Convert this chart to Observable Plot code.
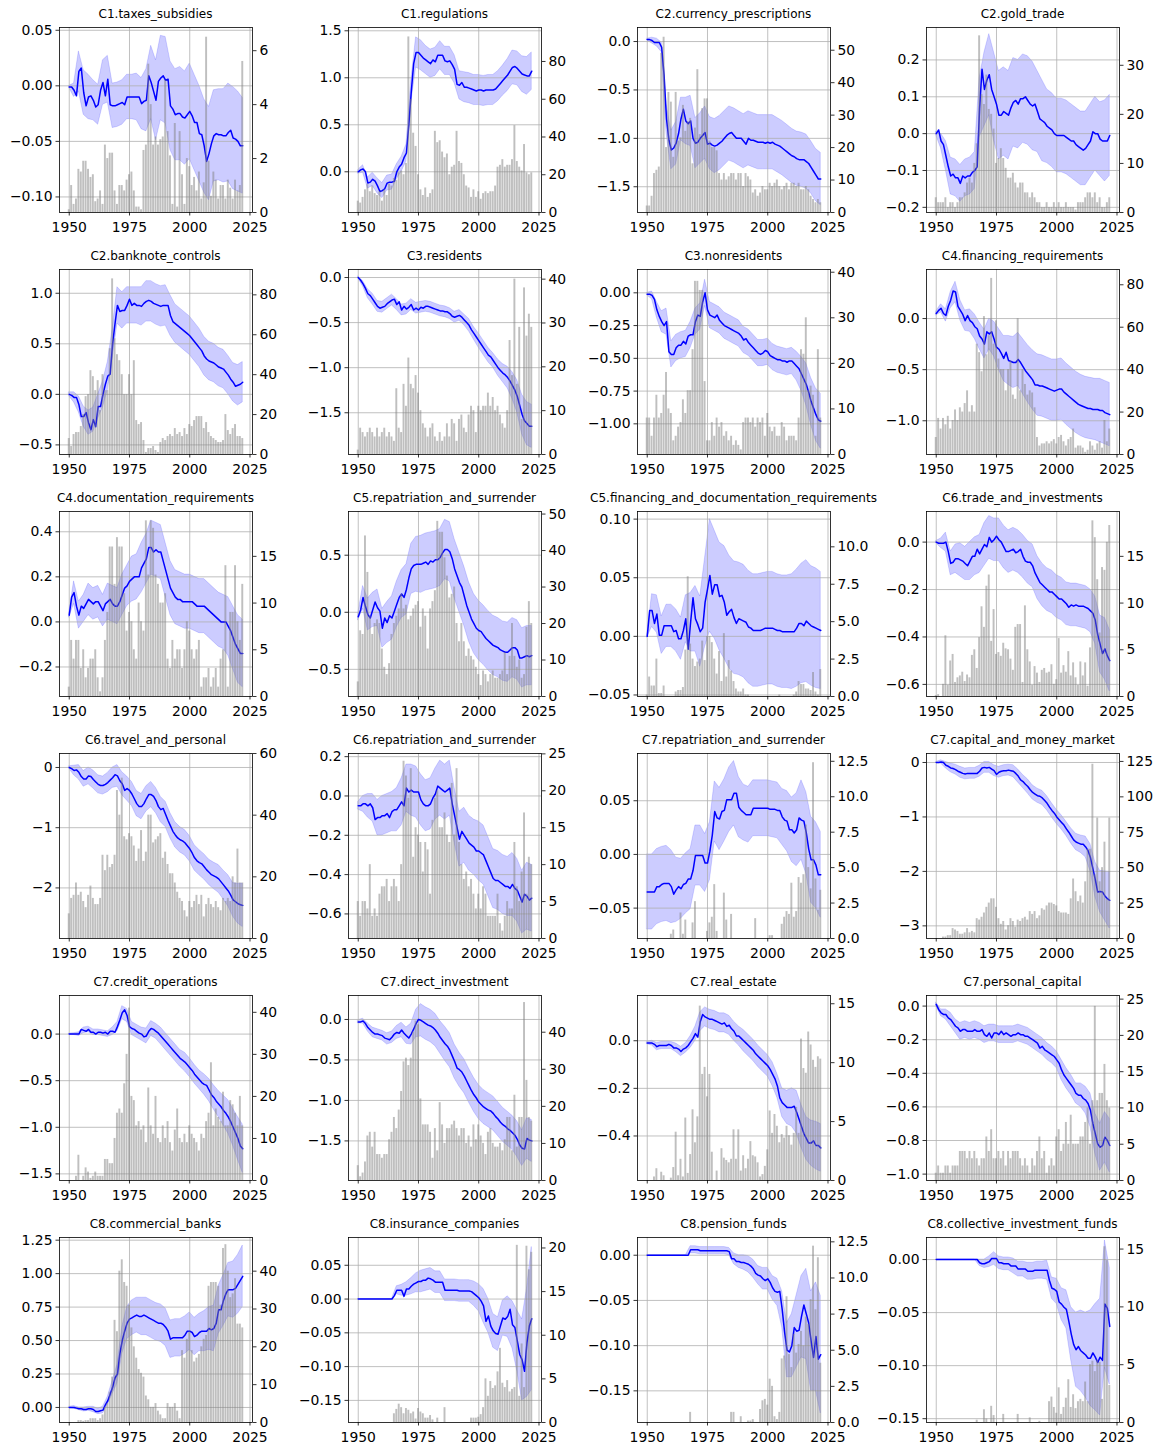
<!DOCTYPE html>
<html><head><meta charset="utf-8">
<script src="https://cdn.jsdelivr.net/npm/d3@7"></script>
<script src="https://cdn.jsdelivr.net/npm/@observablehq/plot@0.6"></script>
<style>
body{margin:0;background:#fff;}
#fig{position:relative;width:1156px;height:1445px;background:#fff;font-family:"DejaVu Sans",sans-serif;overflow:hidden;}
.title{position:absolute;transform:translateX(-50%);font-size:12px;line-height:14px;color:#000;white-space:nowrap;}
.panel{position:absolute;}
.panel svg{position:absolute;left:0;top:0;}
</style></head><body><div id="fig"></div>
<script>
const titles = ["C1.taxes_subsidies","C1.regulations","C2.currency_prescriptions","C2.gold_trade","C2.banknote_controls","C3.residents","C3.nonresidents","C4.financing_requirements","C4.documentation_requirements","C5.repatriation_and_surrender","C5.financing_and_documentation_requirements","C6.trade_and_investments","C6.travel_and_personal","C6.repatriation_and_surrender","C7.repatriation_and_surrender","C7.capital_and_money_market","C7.credit_operations","C7.direct_investment","C7.real_estate","C7.personal_capital","C8.commercial_banks","C8.insurance_companies","C8.pension_funds","C8.collective_investment_funds"];

const xTicks = [1950, 1975, 2000, 2025];

const leftDomains = [[-0.114,0.0525],[-0.433,1.535],[-1.766,0.145],[-0.214,0.288],[-0.595,1.235],[-1.963,0.089],[-1.234,0.178],[-1.33,0.48],[-0.331,0.49],[-0.738,0.883],[-0.0513,0.1065],[-0.651,0.129],[-2.84,0.232],[-0.725,0.216],[-0.0783,0.094],[-3.232,0.165],[-1.571,0.414],[-1.989,0.296],[-0.587,0.19],[-1.038,0.063],[-0.1125,1.27],[-0.1827,0.0911],[-0.185,0.0196],[-0.1536,0.0208]];
const leftTicks = [[-0.1,-0.05,0,0.05],[0,0.5,1,1.5],[-1.5,-1,-0.5,0],[-0.2,-0.1,0,0.1,0.2],[-0.5,0,0.5,1],[-1.5,-1,-0.5,0],[-1,-0.75,-0.5,-0.25,0],[-1,-0.5,0],[-0.2,0,0.2,0.4],[-0.5,0,0.5],[-0.05,0,0.05,0.1],[-0.6,-0.4,-0.2,0],[-2,-1,0],[-0.6,-0.4,-0.2,0,0.2],[-0.05,0,0.05],[-3,-2,-1,0],[-1.5,-1,-0.5,0],[-1.5,-1,-0.5,0],[-0.4,-0.2,0],[-1,-0.8,-0.6,-0.4,-0.2,0],[0,0.25,0.5,0.75,1,1.25],[-0.15,-0.1,-0.05,0,0.05],[-0.15,-0.1,-0.05,0],[-0.15,-0.1,-0.05,0]];
const leftFormats = [".2f",".1f",".1f",".1f",".1f",".1f",".2f",".1f",".1f",".1f",".2f",".1f","d",".1f",".2f","d",".1f",".1f",".1f",".1f",".2f",".2f",".2f",".2f"];
const rightDomains = [[0,6.86],[0,98],[0,57],[0,37.7],[0,92.7],[0,42.2],[0,40.6],[0,87.2],[0,19.8],[0,50.7],[0,12.36],[0,19.8],[0,60],[0,25.05],[0,13.05],[0,130.6],[0,44],[0,49.9],[0,15.7],[0,25.5],[0,48.9],[0,21.2],[0,12.8],[0,16]];
const rightTicks = [[0,2,4,6],[0,20,40,60,80],[0,10,20,30,40,50],[0,10,20,30],[0,20,40,60,80],[0,10,20,30,40],[0,10,20,30,40],[0,20,40,60,80],[0,5,10,15],[0,10,20,30,40,50],[0,2.5,5,7.5,10],[0,5,10,15],[0,20,40,60],[0,5,10,15,20,25],[0,2.5,5,7.5,10,12.5],[0,25,50,75,100,125],[0,10,20,30,40],[0,10,20,30,40],[0,5,10,15],[0,5,10,15,20,25],[0,10,20,30,40],[0,5,10,15,20],[0,2.5,5,7.5,10,12.5],[0,5,10,15]];
const rightFormats = ["d","d","d","d","d","d","d","d","d","d",".1f","d","d","d",".1f","d","d","d","d","d","d","d",".1f","d"];

// estimated coefficient per year 1950..2022
const line01 = [-0.001,-0.001,-0.004,-0.009,0.013,0.016,-0.006,-0.018,-0.010,-0.009,
-0.013,-0.019,-0.017,-0.004,0.003,-0.009,0.006,-0.017,-0.018,-0.018,
-0.017,-0.016,-0.015,-0.017,-0.010,-0.010,-0.010,-0.010,-0.010,-0.010,
-0.016,-0.014,-0.013,0.009,0.003,-0.005,-0.013,0.004,0.007,0.009,
0.005,0.006,-0.018,-0.021,-0.026,-0.025,-0.025,-0.028,-0.029,-0.026,
-0.023,-0.027,-0.033,-0.033,-0.043,-0.044,-0.054,-0.068,-0.061,-0.052,
-0.045,-0.043,-0.044,-0.044,-0.045,-0.045,-0.042,-0.040,-0.047,-0.048,
-0.050,-0.054,-0.054];
const line02 = [0.00,0.02,0.03,0.00,-0.12,-0.11,-0.08,-0.10,-0.15,-0.21,
-0.20,-0.18,-0.12,-0.11,-0.11,-0.10,0.00,0.05,0.08,0.15,
0.20,0.50,0.85,1.15,1.27,1.27,1.24,1.21,1.19,1.17,
1.15,1.19,1.17,1.24,1.24,1.24,1.18,1.17,1.18,1.14,
1.09,0.93,0.92,0.95,0.90,0.90,0.89,0.88,0.87,0.86,
0.87,0.87,0.86,0.87,0.87,0.87,0.87,0.88,0.91,0.94,
0.97,1.00,1.03,1.07,1.11,1.12,1.10,1.07,1.04,1.03,
1.02,1.02,1.07];
const line03 = [0.02,0.02,0.01,-0.01,-0.01,-0.01,-0.06,-0.35,-0.80,-1.02,
-1.12,-1.10,-1.05,-0.95,-0.80,-0.70,-0.82,-0.85,-0.82,-1.00,
-1.05,-1.04,-1.00,-0.97,-0.94,-1.06,-1.05,-1.07,-1.08,-1.07,
-1.05,-1.03,-1.00,-0.97,-0.95,-0.94,-0.97,-1.00,-1.00,-1.00,
-1.03,-1.06,-1.00,-1.02,-1.02,-1.03,-1.04,-1.04,-1.04,-1.05,
-1.04,-1.05,-1.04,-1.06,-1.07,-1.08,-1.10,-1.12,-1.14,-1.16,
-1.18,-1.19,-1.21,-1.22,-1.22,-1.22,-1.24,-1.26,-1.30,-1.34,
-1.38,-1.42,-1.42];
const line04 = [0.0,0.01,-0.02,-0.03,-0.06,-0.09,-0.115,-0.11,-0.12,-0.12,
-0.135,-0.115,-0.12,-0.115,-0.115,-0.105,-0.10,-0.09,0.07,0.175,
0.12,0.145,0.16,0.12,0.10,0.08,0.05,0.05,0.06,0.055,
0.05,0.07,0.085,0.09,0.08,0.095,0.095,0.10,0.09,0.08,
0.075,0.08,0.06,0.04,0.035,0.03,0.02,0.015,0.01,0.0,
-0.005,-0.005,-0.005,-0.005,-0.01,-0.015,-0.02,-0.02,-0.03,-0.035,
-0.04,-0.045,-0.04,-0.03,-0.02,0.005,0.0,0.0,-0.015,-0.02,
-0.02,-0.02,-0.005];
const line05 = [0.0,-0.01,-0.03,-0.03,-0.10,-0.22,-0.22,-0.18,-0.28,-0.35,
-0.25,-0.32,-0.12,-0.12,0.0,0.10,0.18,0.20,0.50,0.70,
0.88,0.82,0.83,0.83,0.88,0.94,0.88,0.90,0.88,0.88,
0.87,0.90,0.92,0.93,0.92,0.90,0.89,0.88,0.87,0.88,
0.88,0.88,0.78,0.72,0.70,0.68,0.66,0.64,0.62,0.60,
0.58,0.55,0.52,0.49,0.46,0.43,0.38,0.35,0.33,0.32,
0.31,0.29,0.27,0.26,0.25,0.22,0.19,0.15,0.12,0.08,
0.09,0.10,0.12];
const line06 = [0.0,-0.03,-0.07,-0.12,-0.18,-0.20,-0.24,-0.28,-0.32,-0.34,
-0.33,-0.32,-0.29,-0.27,-0.25,-0.24,-0.30,-0.27,-0.36,-0.32,
-0.35,-0.33,-0.30,-0.36,-0.34,-0.36,-0.33,-0.34,-0.32,-0.32,
-0.33,-0.34,-0.35,-0.36,-0.37,-0.37,-0.38,-0.38,-0.40,-0.43,
-0.44,-0.43,-0.42,-0.44,-0.47,-0.50,-0.53,-0.58,-0.62,-0.66,
-0.70,-0.74,-0.78,-0.82,-0.86,-0.88,-0.92,-0.96,-1.00,-1.03,
-1.06,-1.08,-1.11,-1.15,-1.20,-1.25,-1.32,-1.42,-1.52,-1.59,
-1.62,-1.65,-1.65];
const line07 = [-0.01,-0.01,-0.02,-0.05,-0.13,-0.18,-0.22,-0.25,-0.22,-0.45,
-0.47,-0.47,-0.42,-0.40,-0.40,-0.37,-0.39,-0.33,-0.32,-0.32,
-0.22,-0.17,-0.18,-0.07,0.0,-0.13,-0.17,-0.18,-0.19,-0.17,
-0.21,-0.23,-0.25,-0.26,-0.27,-0.28,-0.29,-0.30,-0.31,-0.33,
-0.36,-0.35,-0.38,-0.40,-0.42,-0.44,-0.46,-0.47,-0.46,-0.44,
-0.45,-0.48,-0.49,-0.50,-0.51,-0.51,-0.52,-0.52,-0.53,-0.52,
-0.52,-0.54,-0.56,-0.58,-0.62,-0.66,-0.70,-0.76,-0.83,-0.88,
-0.93,-0.97,-0.98];
const line08 = [0.05,0.08,0.10,0.05,0.03,0.12,0.18,0.27,0.26,0.12,
0.08,0.04,-0.02,0.03,-0.02,-0.04,-0.08,-0.10,-0.17,-0.20,
-0.25,-0.13,-0.15,-0.13,-0.20,-0.28,-0.30,-0.34,-0.39,-0.33,
-0.41,-0.42,-0.43,-0.43,-0.40,-0.43,-0.47,-0.51,-0.54,-0.57,
-0.60,-0.65,-0.65,-0.66,-0.66,-0.67,-0.68,-0.69,-0.70,-0.71,
-0.70,-0.69,-0.69,-0.72,-0.74,-0.76,-0.78,-0.80,-0.82,-0.84,
-0.85,-0.86,-0.87,-0.88,-0.88,-0.89,-0.89,-0.89,-0.90,-0.90,
-0.92,-0.93,-0.94];
const line09 = [0.03,0.11,0.13,0.07,0.03,0.07,0.06,0.08,0.10,0.09,
0.08,0.09,0.09,0.07,0.05,0.08,0.09,0.10,0.08,0.07,
0.07,0.09,0.12,0.15,0.16,0.18,0.19,0.20,0.20,0.20,
0.24,0.26,0.28,0.33,0.33,0.31,0.32,0.31,0.31,0.27,
0.23,0.19,0.15,0.13,0.11,0.10,0.10,0.09,0.09,0.09,
0.09,0.09,0.08,0.07,0.07,0.07,0.07,0.06,0.05,0.04,
0.03,0.02,0.01,0.00,0.00,0.00,-0.02,-0.04,-0.07,-0.10,
-0.12,-0.14,-0.14];
const line10 = [-0.04,0.02,0.13,0.05,-0.02,-0.05,0.02,0.09,0.04,0.01,
-0.14,-0.05,-0.09,-0.03,-0.05,0.01,0.07,0.13,0.16,0.13,
0.20,0.30,0.38,0.41,0.42,0.42,0.42,0.43,0.44,0.42,
0.45,0.44,0.46,0.46,0.48,0.52,0.55,0.55,0.53,0.47,
0.38,0.32,0.26,0.22,0.14,0.06,0.00,-0.06,-0.10,-0.14,
-0.16,-0.17,-0.20,-0.23,-0.25,-0.27,-0.29,-0.30,-0.31,-0.33,
-0.34,-0.35,-0.35,-0.33,-0.31,-0.31,-0.33,-0.40,-0.40,-0.39,
-0.38,-0.39,-0.38];
const line11 = [0.0,0.022,0.022,0.011,0.019,0.001,0.001,0.009,0.009,0.009,
0.009,0.004,0.005,-0.002,-0.002,0.005,0.015,-0.011,0.012,0.033,
0.015,0.010,0.004,0.007,0.029,0.040,0.052,0.036,0.044,0.044,
0.034,0.035,0.029,0.018,0.021,0.023,0.016,0.011,0.015,0.014,
0.013,0.012,0.008,0.007,0.005,0.005,0.005,0.005,0.006,0.007,
0.007,0.007,0.007,0.006,0.005,0.005,0.004,0.004,0.004,0.004,
0.004,0.004,0.007,0.011,0.011,0.009,0.013,0.011,0.009,0.008,
0.007,0.006,0.005];
const line12 = [0.0,-0.005,-0.005,-0.005,0.0,-0.04,-0.09,-0.085,-0.07,-0.07,
-0.075,-0.08,-0.09,-0.10,-0.08,-0.06,-0.06,-0.03,-0.05,-0.03,
-0.01,-0.02,0.02,0.0,0.01,0.025,0.01,0.0,-0.02,-0.04,
-0.04,-0.035,-0.03,-0.045,-0.04,-0.03,-0.06,-0.08,-0.085,-0.085,
-0.10,-0.13,-0.15,-0.17,-0.18,-0.19,-0.20,-0.21,-0.21,-0.22,
-0.23,-0.24,-0.24,-0.25,-0.26,-0.275,-0.265,-0.27,-0.265,-0.27,
-0.27,-0.27,-0.275,-0.28,-0.29,-0.30,-0.33,-0.39,-0.43,-0.47,
-0.45,-0.48,-0.50];
const line13 = [0.0,-0.02,-0.05,-0.04,-0.08,-0.15,-0.19,-0.19,-0.14,-0.15,
-0.20,-0.24,-0.28,-0.30,-0.30,-0.28,-0.25,-0.21,-0.17,-0.12,
-0.14,-0.22,-0.27,-0.38,-0.35,-0.38,-0.44,-0.52,-0.60,-0.65,
-0.65,-0.60,-0.52,-0.45,-0.45,-0.48,-0.55,-0.65,-0.70,-0.68,
-0.78,-0.88,-0.97,-1.06,-1.12,-1.17,-1.20,-1.22,-1.25,-1.30,
-1.35,-1.42,-1.50,-1.55,-1.58,-1.60,-1.65,-1.70,-1.74,-1.78,
-1.80,-1.82,-1.85,-1.90,-1.95,-2.00,-2.05,-2.12,-2.20,-2.23,
-2.26,-2.28,-2.29];
const line14 = [-0.05,-0.05,-0.04,-0.04,-0.05,-0.04,-0.06,-0.12,-0.11,-0.11,
-0.10,-0.10,-0.09,-0.11,-0.08,-0.07,-0.07,-0.05,-0.03,-0.05,
0.04,0.02,0.03,0.02,0.02,0.02,-0.02,-0.04,-0.05,-0.05,
-0.04,-0.01,0.01,0.05,0.04,0.03,0.02,0.03,0.04,-0.04,
-0.10,-0.16,-0.22,-0.18,-0.20,-0.22,-0.24,-0.25,-0.26,-0.28,
-0.28,-0.29,-0.30,-0.33,-0.36,-0.39,-0.42,-0.43,-0.43,-0.44,
-0.45,-0.46,-0.46,-0.47,-0.45,-0.47,-0.48,-0.51,-0.54,-0.50,
-0.51,-0.53,-0.52];
const line15 = [-0.035,-0.035,-0.035,-0.035,-0.030,-0.030,-0.028,-0.027,-0.027,-0.027,
-0.030,-0.037,-0.033,-0.030,-0.032,-0.028,-0.027,-0.023,-0.023,-0.015,
-0.001,-0.001,-0.001,-0.001,-0.008,-0.008,0.003,0.018,0.040,0.034,
0.033,0.040,0.041,0.051,0.051,0.051,0.057,0.057,0.044,0.041,
0.039,0.037,0.037,0.037,0.043,0.043,0.043,0.043,0.043,0.043,
0.043,0.042,0.042,0.042,0.041,0.041,0.035,0.032,0.031,0.023,
0.023,0.020,0.023,0.034,0.032,0.031,0.020,0.005,-0.005,-0.005,
-0.010,-0.019,-0.019];
const line16 = [0.0,0.0,0.01,0.0,-0.05,-0.07,-0.10,-0.11,-0.13,-0.16,
-0.18,-0.20,-0.21,-0.20,-0.20,-0.20,-0.20,-0.20,-0.16,-0.10,
-0.09,-0.10,-0.09,-0.12,-0.15,-0.22,-0.18,-0.16,-0.15,-0.15,
-0.14,-0.15,-0.16,-0.20,-0.25,-0.32,-0.35,-0.40,-0.44,-0.50,
-0.55,-0.58,-0.61,-0.62,-0.65,-0.70,-0.75,-0.82,-0.88,-0.93,
-1.00,-1.05,-1.10,-1.15,-1.22,-1.28,-1.35,-1.42,-1.46,-1.48,
-1.50,-1.50,-1.55,-1.62,-1.75,-1.95,-2.15,-2.38,-2.37,-2.38,
-2.45,-2.50,-2.53];
const line17 = [0.0,0.0,0.0,0.0,0.0,0.05,0.04,0.03,0.05,0.02,
0.02,0.0,0.02,0.02,0.01,0.02,0.0,0.03,0.03,0.02,
0.08,0.15,0.23,0.26,0.20,0.08,0.06,0.05,0.03,0.01,
0.0,-0.03,-0.02,0.03,0.06,0.05,0.03,0.01,-0.02,-0.05,
-0.08,-0.11,-0.14,-0.17,-0.20,-0.23,-0.26,-0.28,-0.30,-0.33,
-0.36,-0.39,-0.43,-0.46,-0.49,-0.52,-0.54,-0.55,-0.60,-0.65,
-0.68,-0.72,-0.75,-0.78,-0.82,-0.85,-0.89,-0.94,-1.00,-1.06,
-1.12,-1.20,-1.23];
const line18 = [-0.03,-0.03,-0.02,-0.05,-0.10,-0.13,-0.16,-0.18,-0.18,-0.19,
-0.20,-0.23,-0.24,-0.25,-0.22,-0.18,-0.16,-0.17,-0.13,-0.17,
-0.20,-0.23,-0.18,-0.12,-0.05,0.0,-0.01,-0.03,-0.05,-0.07,
-0.08,-0.10,-0.13,-0.17,-0.22,-0.26,-0.30,-0.33,-0.38,-0.45,
-0.52,-0.60,-0.62,-0.65,-0.70,-0.76,-0.82,-0.88,-0.93,-0.97,
-1.02,-1.05,-1.08,-1.10,-1.12,-1.13,-1.16,-1.20,-1.23,-1.27,
-1.30,-1.32,-1.35,-1.37,-1.40,-1.43,-1.48,-1.55,-1.59,-1.60,
-1.47,-1.49,-1.50];
const line19 = [-0.01,-0.01,-0.01,-0.015,-0.025,-0.02,-0.02,-0.02,-0.02,-0.015,
-0.02,-0.03,-0.03,-0.035,-0.045,-0.035,-0.03,-0.02,-0.005,0.01,
0.03,0.015,0.08,0.11,0.10,0.095,0.09,0.09,0.085,0.08,
0.075,0.07,0.075,0.06,0.065,0.05,0.04,0.02,0.02,0.01,
0.0,-0.01,-0.02,-0.03,-0.04,-0.055,-0.065,-0.075,-0.085,-0.095,
-0.105,-0.12,-0.14,-0.16,-0.19,-0.24,-0.26,-0.27,-0.28,-0.28,
-0.28,-0.275,-0.30,-0.33,-0.36,-0.39,-0.41,-0.43,-0.43,-0.42,
-0.44,-0.44,-0.45];
const line20 = [0.01,-0.02,-0.04,-0.05,-0.05,-0.07,-0.08,-0.10,-0.12,-0.13,
-0.15,-0.14,-0.14,-0.15,-0.15,-0.15,-0.14,-0.15,-0.15,-0.14,
-0.17,-0.18,-0.16,-0.19,-0.16,-0.16,-0.17,-0.15,-0.17,-0.16,
-0.17,-0.18,-0.17,-0.17,-0.16,-0.17,-0.17,-0.18,-0.18,-0.19,
-0.20,-0.21,-0.22,-0.25,-0.24,-0.26,-0.27,-0.28,-0.29,-0.30,
-0.32,-0.34,-0.38,-0.41,-0.43,-0.45,-0.47,-0.49,-0.52,-0.53,
-0.53,-0.55,-0.56,-0.58,-0.62,-0.70,-0.76,-0.82,-0.84,-0.83,
-0.78,-0.80,-0.83];
const line21 = [0.0,0.0,0.0,-0.005,-0.01,-0.01,-0.015,-0.015,-0.01,-0.01,
-0.015,-0.03,-0.03,-0.025,-0.02,0.02,0.05,0.10,0.15,0.22,
0.25,0.40,0.50,0.57,0.63,0.66,0.67,0.68,0.69,0.68,
0.68,0.69,0.68,0.67,0.66,0.65,0.64,0.63,0.63,0.62,
0.60,0.57,0.51,0.52,0.52,0.52,0.52,0.52,0.54,0.57,
0.57,0.56,0.53,0.54,0.56,0.57,0.57,0.57,0.59,0.58,
0.59,0.63,0.73,0.73,0.80,0.85,0.88,0.88,0.88,0.89,
0.92,0.95,0.98];
const line22 = [0,0,0,0,0,0,0,0,0,0,
0,0,0,0,0,0.005,0.013,0.013,0.013,0.004,
0.015,0.015,0.019,0.022,0.024,0.026,0.026,0.028,0.028,0.031,
0.030,0.028,0.025,0.025,0.025,0.025,0.013,0.013,0.013,0.013,
0.013,0.013,0.012,0.012,0.012,0.012,0.012,0.011,0.008,0.005,
0.002,-0.003,-0.010,-0.033,-0.025,-0.040,-0.047,-0.051,-0.052,-0.040,
-0.028,-0.030,-0.026,-0.015,-0.038,-0.042,-0.062,-0.082,-0.090,-0.107,
-0.065,-0.040,-0.029];
const line23 = [0,0,0,0,0,0,0,0,0,0,
0,0,0,0,0,0,0,0,0.006,0.006,
0.006,0.006,0.005,0.005,0.005,0.005,0.005,0.005,0.005,0.005,
0.005,0.005,0.005,0.005,0.004,-0.004,-0.004,-0.007,-0.007,-0.008,
-0.008,-0.009,-0.010,-0.012,-0.015,-0.020,-0.022,-0.023,-0.026,-0.028,
-0.026,-0.030,-0.036,-0.040,-0.041,-0.040,-0.060,-0.085,-0.105,-0.107,
-0.100,-0.080,-0.084,-0.083,-0.068,-0.055,-0.065,-0.075,-0.095,-0.113,
-0.090,-0.115,-0.110];
const line24 = [0,0,0,0,0,0,0,0,0,0,
0,0,0,0,0,0,0,0,-0.003,-0.004,
-0.004,-0.003,-0.002,0.001,0.001,0.001,-0.003,-0.003,-0.004,-0.004,
-0.004,-0.006,-0.006,-0.006,-0.009,-0.009,-0.009,-0.009,-0.011,-0.011,
-0.011,-0.010,-0.010,-0.010,-0.010,-0.010,-0.010,-0.020,-0.027,-0.028,
-0.030,-0.040,-0.042,-0.045,-0.047,-0.058,-0.070,-0.080,-0.085,-0.082,
-0.086,-0.088,-0.090,-0.093,-0.093,-0.088,-0.092,-0.097,-0.092,-0.095,
-0.042,-0.046,-0.063];

// half-width of the confidence band, every second year 1950..2022
const ci01 = [.001,.006,.018,.020,.020,.018,.018,.020,.021,.020,.020,.020,.020,.020,.021,.023,.028,.033,.036,.038,.039,.040,.041,.042,.042,.043,.043,.043,.042,.042,.041,.041,.042,.044,.046,.045,.043];
const ci02 = [.02,.04,.06,.07,.08,.08,.08,.08,.08,.08,.09,.12,.16,.16,.15,.15,.15,.15,.15,.15,.15,.15,.16,.16,.16,.16,.16,.16,.16,.16,.16,.17,.18,.18,.19,.20,.20];
const ci03 = [.01,.03,.04,.05,.15,.20,.22,.22,.24,.26,.26,.26,.27,.27,.28,.28,.28,.28,.28,.28,.28,.28,.28,.28,.28,.28,.28,.28,.28,.28,.28,.28,.28,.28,.27,.27,.27];
const ci04 = [.005,.02,.04,.05,.05,.05,.05,.05,.05,.08,.10,.11,.12,.12,.12,.12,.12,.12,.12,.12,.12,.11,.11,.10,.10,.10,.10,.10,.10,.10,.10,.10,.10,.10,.10,.11,.11];
const ci05 = [.02,.05,.08,.10,.12,.12,.12,.13,.14,.15,.18,.18,.18,.18,.18,.19,.20,.20,.20,.20,.20,.20,.19,.19,.19,.19,.19,.19,.19,.19,.19,.19,.19,.19,.19,.20,.20];
const ci06 = [.01,.03,.05,.06,.06,.06,.06,.06,.06,.06,.06,.06,.06,.06,.06,.06,.06,.06,.06,.06,.06,.06,.06,.07,.07,.08,.08,.08,.08,.09,.10,.12,.15,.18,.22,.24,.24];
const ci07 = [.01,.03,.06,.08,.10,.10,.10,.10,.10,.10,.10,.10,.10,.10,.10,.10,.10,.10,.10,.10,.10,.10,.10,.10,.10,.10,.10,.10,.10,.10,.10,.11,.13,.16,.18,.20,.21];
const ci08 = [.02,.04,.06,.08,.10,.10,.10,.11,.12,.13,.14,.15,.17,.20,.22,.24,.25,.26,.27,.28,.29,.30,.30,.30,.30,.30,.30,.30,.30,.30,.30,.30,.30,.30,.31,.31,.31];
const ci09 = [.01,.05,.06,.06,.07,.07,.07,.07,.08,.08,.08,.09,.09,.10,.10,.11,.11,.12,.12,.12,.12,.12,.12,.12,.12,.12,.12,.12,.12,.12,.12,.12,.12,.13,.14,.15,.15];
const ci10 = [.03,.10,.14,.15,.16,.17,.18,.19,.20,.21,.22,.22,.24,.25,.25,.25,.25,.25,.26,.26,.26,.26,.26,.26,.26,.26,.26,.26,.26,.26,.26,.26,.26,.26,.26,.26,.26];
const ci11 = [.001,.014,.016,.016,.018,.018,.018,.018,.020,.025,.028,.030,.038,.048,.046,.046,.048,.048,.048,.048,.048,.048,.048,.048,.048,.048,.048,.048,.048,.048,.049,.050,.051,.052,.051,.051,.050];
const ci12 = [.005,.02,.04,.05,.06,.07,.07,.08,.08,.08,.09,.09,.09,.09,.09,.09,.09,.09,.09,.09,.09,.09,.09,.09,.09,.09,.09,.09,.09,.09,.09,.09,.09,.10,.12,.13,.13];
const ci13 = [.02,.08,.12,.13,.14,.15,.15,.15,.16,.17,.18,.19,.20,.20,.21,.21,.21,.21,.21,.21,.21,.21,.21,.21,.21,.21,.21,.21,.21,.21,.22,.23,.24,.26,.28,.33,.36];
const ci14 = [.02,.04,.06,.07,.09,.10,.10,.10,.11,.12,.12,.13,.13,.13,.13,.13,.13,.14,.14,.14,.14,.14,.14,.14,.14,.15,.15,.15,.15,.15,.15,.15,.16,.16,.16,.17,.17];
const ci15 = [.035,.035,.035,.035,.035,.034,.030,.028,.028,.028,.028,.028,.027,.027,.028,.029,.029,.030,.030,.028,.026,.026,.026,.026,.026,.026,.026,.026,.026,.028,.030,.034,.037,.038,.040,.040,.040];
const ci16 = [.01,.03,.06,.08,.09,.10,.10,.10,.10,.10,.10,.10,.10,.10,.10,.10,.11,.12,.12,.13,.13,.13,.13,.13,.13,.13,.13,.13,.14,.15,.16,.19,.25,.32,.38,.45,.52];
const ci17 = [.005,.01,.02,.03,.03,.03,.03,.03,.03,.04,.05,.07,.07,.07,.07,.07,.08,.08,.08,.09,.09,.09,.09,.09,.10,.10,.10,.10,.11,.12,.13,.14,.16,.18,.20,.23,.26];
const ci18 = [.02,.03,.05,.06,.06,.06,.07,.07,.08,.09,.10,.13,.17,.20,.20,.20,.20,.20,.21,.21,.21,.21,.21,.21,.21,.21,.21,.21,.21,.21,.21,.21,.21,.22,.22,.25,.26];
const ci19 = [.005,.01,.015,.015,.015,.015,.018,.02,.02,.025,.03,.04,.04,.04,.04,.04,.04,.04,.04,.04,.045,.045,.045,.045,.045,.045,.05,.05,.06,.07,.08,.09,.09,.09,.095,.10,.10];
const ci20 = [.01,.02,.03,.04,.04,.05,.05,.05,.05,.05,.05,.05,.05,.05,.05,.05,.05,.05,.05,.05,.05,.05,.05,.05,.05,.05,.06,.06,.06,.06,.07,.08,.10,.12,.14,.15,.16];
const ci21 = [.005,.01,.01,.015,.015,.02,.02,.025,.03,.05,.07,.10,.12,.13,.13,.14,.14,.14,.14,.14,.14,.14,.14,.14,.14,.14,.14,.14,.15,.16,.17,.18,.19,.20,.21,.22,.23];
const ci22 = [0,0,0,0,0,0,0,0,.006,.008,.010,.012,.014,.016,.016,.016,.016,.016,.016,.016,.016,.016,.016,.016,.018,.020,.025,.025,.025,.025,.026,.030,.035,.045,.060,.080,.106];
const ci23 = [0,0,0,0,0,0,0,0,0,.004,.004,.004,.004,.004,.004,.004,.004,.004,.006,.007,.008,.009,.010,.010,.012,.012,.013,.015,.020,.030,.035,.040,.045,.050,.055,.060,.065];
const ci24 = [0,0,0,0,0,0,0,0,0,.003,.004,.005,.006,.006,.006,.006,.007,.007,.007,.008,.008,.008,.008,.009,.010,.012,.015,.018,.025,.035,.038,.040,.045,.050,.055,.060,.055];

// yearly counts (right axis), 1950..2022
const count01 = [0.1,1.0,0.3,0.5,1.6,1.5,1.9,1.9,1.6,1.3, 1.4,0.4,0.5,0.8,0.3,2.5,2.0,2.2,2.2,0.8, 0.3,1.0,1.0,0.8,1.2,1.4,1.5,0.8,0.2,0.2, 0.1,2.3,2.5,5.5,4.0,2.5,2.8,2.5,2.7,2.8, 4.9,3.0,2.1,0.3,3.3,0.2,3.0,1.4,0.3,2.0, 1.7,1.0,1.3,0.8,1.5,0.5,1.1,6.5,1.9,0.6, 1.5,1.2,0.5,1.0,1.0,0.5,1.2,0.9,0.5,1.2, 0.8,1.0,5.6];
const count02 = [6,5,8,12,15,11,14,10,9,11, 6,12,9,15,14,18,17,21,22,20, 26,93,60,42,35,20,12,9,13,8, 10,12,43,37,38,32,29,31,20,24, 25,43,27,26,20,14,13,8,12,8, 11,7,10,11,10,11,11,14,24,25, 28,24,25,25,28,46,27,24,22,36, 21,20,21];
const count03 = [2,2,5,12,13,14,49,54,20,37, 34,17,37,22,23,33,25,28,29,15, 26,44,24,32,35,35,22,20,20,19, 12,10,12,10,11,12,12,10,12,12, 8,12,11,10,6,7,5,6,8,7, 7,9,8,9,10,8,7,8,9,7, 9,9,8,9,7,7,8,7,5,4, 3,4,3];
const count04 = [3,2,2,2,3,1,2,2,1,2, 3,3,4,6,7,6,10,14,36,24, 22,28,21,20,17,10,11,13,11,9, 7,7,8,6,5,6,6,4,4,3, 4,3,2,2,1,1,2,1,1,2, 1,2,1,1,2,1,1,1,0.5,2, 2,2,3,4,4,3,4,2,3,1, 1,2,3];
const count05 = [8,4,10,11,11,14,20,29,30,42, 39,32,37,22,40,32,32,53,88,58, 50,47,40,30,30,40,30,47,17,15, 16,7,1,3,3,4,2,1,6,8, 7,9,10,9,13,10,11,9,13,10, 15,14,17,19,19,19,13,16,11,9, 8,7,6,6,7,20,12,10,13,15, 9,9,8];
const count06 = [1,6,5,4,5,6,5,4,6,4, 5,6,4,5,4,3,15,6,5,16, 11,22,16,15,18,14,10,7,6,4, 6,7,4,3,5,3,4,7,4,8, 7,3,8,9,6,5,9,11,10,5, 11,10,11,11,14,11,13,10,11,9, 7,6,10,26,18,40,16,29,8,38, 27,32,29];
const count07 = [8,8,4,8,13,8,9,13,18,10, 9,3,4,6,7,12,9,14,14,23, 38,38,36,36,16,3,3,7,4,8, 6,7,4,5,3,4,2,3,2,1, 7,8,8,7,8,6,8,7,8,4, 9,6,5,6,4,4,7,6,3,4, 4,4,3,8,23,22,30,14,15,13, 4,23,8];
const count08 = [8,17,12,17,14,18,12,16,21,16, 22,20,24,30,20,23,20,52,48,39, 65,47,56,83,52,63,45,40,40,30, 40,44,28,26,64,30,40,33,28,30, 29,22,8,4,5,5,6,5,6,7, 5,8,9,6,4,7,8,12,3,4, 4,3,1,2,6,4,2,5,6,3, 16,6,12];
const count09 = [1,6,4,6,6,3,5,2,3,4, 4,5,2,0.5,2,6,9,16,16,12, 17,16,16,11,7,9,8,5,4,10, 8,7,18.8,13,18.8,18,13,12,10,10, 11,4,3,6,4,5,5,3,5,8, 7,5,4,5,6,1,2,2,3,1, 2,3,1,4,5,14,1,9,9,14, 8,6,12];
const count10 = [4,18,17,44,34,22,17,20,21,20, 13,8,6,9,17,20,22,24,28,24, 25,21,22,24,25,26,19,24,22,13, 24,26,29,48,45,45,38,33,27,28, 30,20,15,20,15,11,13,11,10,8, 6,3,7,6,4,6,7,5,5,6, 7,12,6,11,20,11,8,10,5,6, 19,26,20];
const count11 = [0.1,1.3,0.7,0.7,2.5,0.2,0.2,0.7,0,0, 0,0,0.3,0.4,0.4,0.6,3.1,8.0,3.5,2.5, 2.0,2.3,2.5,3.7,2.4,4.0,4.0,3.6,2.5,1.5, 3.0,1.0,4.2,1.3,2.4,1.7,1.0,0.5,0.3,0.3, 0.5,0.1,0.1,0,0,0,0,0,0,0, 0,0,0,0,0,0.1,0,0,0,0, 0,0.1,0.3,1.0,0.8,0.8,0.5,0.5,0.4,1.6, 0.3,0.1,1.8];
const count12 = [0.1,0.2,0,1.3,6.5,1.2,3.8,4.5,1.5,2.0, 2.2,2.6,1.6,2.3,2.0,4.4,5.0,3.0,6.3,9.6, 7.4,11.8,13.0,5.9,9.3,4.5,4.7,4.3,5.7,5.1, 5.0,4.0,2.8,7.4,7.7,7.7,1.5,9.7,5.0,3.7, 1.2,3.2,2.5,1.5,2.8,3.0,2.5,2.6,3.4,1.3, 1.8,6.2,2.5,3.3,2.6,4.8,2.2,3.6,2.0,1.2, 3.7,2.2,3.6,1.1,5.2,18.8,17.0,12.5,6.8,13.8, 13.5,16.5,18.3];
const count13 = [8,13,14,18,14,15,12,10,14,17, 13,11,11,13,27,22,27,23,24,27, 48,40,52,33,32,34,33,30,25,29, 35,25,28,40,40,31,32,33,34,26, 28,24,21,21,18,15,13,12,9,7, 12,10,12,14,11,14,7,11,13,11, 10,12,10,9,13,12,13,12,20,18, 29,18,18];
const count14 = [5,3,5,5,4,10,3,4,3,6, 7,7,8,5,7,8,7,5,10,24, 22,19,23,11,15,14,13,9,13,12, 6,16,19,20,15,15,17,14,13,21, 14,23,13,10,8,9,7,8,6,4, 6,4,7,6,3,3,3,3,6,2, 1,3,5,4,4,13,7,5,9,17, 6,11,10];
const count15 = [0,0,0,0,0,0,0,0,0,0, 0.3,0.6,0,0,1.8,0.3,1.3,0,0,1.1, 2.6,0,0,0,0,0.5,1.1,1.5,3.8,0.5, 0,0,3.2,1.3,0,1.7,0,0,0,0, 0,0,0,0,0,1.4,0,0,0,0, 0,0.2,0.2,0,0,0,1.0,1.5,1.9,1.7, 3.9,1.5,1.9,4.3,3.9,4.5,8.0,5.0,3.5,12.4, 4.2,2.0,3.4];
const count16 = [0,0,0,1,1,2,2,7,6,5, 3,3,4,7,4,5,4,14,13,15, 18,22,25,28,28,22,14,10,12,6, 9,14,12,8,13,12,14,15,13,19, 17,19,14,16,21,20,23,25,25,24, 23,19,18,18,18,17,28,42,33,26, 30,25,40,63,63,123,45,85,40,50, 68,28,85];
const count17 = [0,0,0,1,6,0,1,3,2,0.5, 1,2,1,1,1,5,5,4,4,10, 16,17,16,23,30,41,20,19,13,14, 12,13,9,22,13,11,20,10,9,13, 10,14,9,7,12,17,10,9,11,9, 13,11,10,9,7,11,10,14,16,28, 13,17,15,14,21,13,13,19,18,16, 13,20,13];
const count18 = [4,1,2,5,12,13,9,13,7,7, 6,7,7,11,13,17,14,19,24,32, 33,31,33,40,43,42,22,15,15,15, 13,6,14,8,21,15,10,14,14,15, 16,14,12,14,14,10,12,9,15,11, 15,12,10,7,13,14,10,9,9,10, 8,11,17,17,8,23,9,17,17,48, 27,17,16];
const count19 = [0,0,0,0.3,1.0,0,0.7,0.4,0,0, 0.2,1.1,4.1,0.4,1.8,0.3,5.3,0.6,2.2,6.0, 3.2,5.4,14.8,9.0,9.6,7.1,9.0,2.4,0,0.8, 0,2.7,1.9,1.7,1.5,1.8,4.3,1.8,4.3,0.8, 2.1,1.0,1.8,3.3,2.1,2.0,1.5,0.3,0.5,1.2, 2.6,5.9,4.0,5.6,4.6,3.2,3.9,3.6,4.6,3.8, 3.0,4.0,6.2,4.0,12.0,9.5,9.1,12.6,11.5,10.2, 9.6,10.5,10.3];
const count20 = [1,2,1,1,2,2,1,2,2,2, 4,4,4,3,4,3,4,3,2,3, 3,6,4,7,3,3,4,3,4,2, 4,3,4,4,4,3,2,3,2,1, 3,2,4,6,3,4,1,2,3,2, 6,7,4,5,8,5,9,5,5,5, 6,6,8,10,5,11,24,11,12,12, 16,11,10];
const count21 = [0,0,0,0,0.5,0.5,0.3,0.5,0.5,1, 1,1,0.5,1,2,4,5,8,12,27, 24,40,43,37,36,31,25,20,17,14, 13,12,7,6,4,4,5,3,2,1, 1,5,4,4,5,3,1,19,17,22, 24,19,16,17,18,20,22,23,36,37, 37,37,36,31,46,47,40,33,34,38, 26,26,25];
const count22 = [0,0,0,0,0,0,0,0,0,0, 0,0,0,0,0,1,1.5,2.1,1.7,1.0, 1.6,1.4,1.0,1.2,0.4,1.6,1.2,1.0,0.5,0.5, 0.8,0.3,0,0.5,0,0,1.7,0,0,0, 0,0,0,0,0,0,0,0.5,0.5,0.5, 0.6,0.9,1.7,5.0,3.0,4.7,3.9,4.2,5.8,8.5, 4.5,4.0,4.8,3.5,3.8,4.0,20.3,3.0,9.0,4.0, 20.2,17.5,19.5];
const count23 = [0,0,0,0,0,0,0,0,0,0, 0,0,0,0,0,0,0,0,0.7,0, 0,0,0,0,0,0,0,0,0,0, 0,0,0,0,0,0.7,0.7,0,0,0.4, 0,0,0.1,0.1,0.2,0,0,0.9,1.5,1.6, 1.2,3.0,2.5,0.4,0.2,0.7,4.4,4.6,8.7,4.7, 3.8,6.1,4.8,5.4,6.3,5.3,7.3,6.8,8.5,12.2, 7.8,11.4,4.1];
const count24 = [0,0,0,0,0,0,0,0,0,0, 0,0,0,0,0,0,0,0.2,0,0, 1.1,0.3,0,1.4,0.6,0,0,0,0.7,0, 0,0,0,0,0.7,0,0,0,0,0.4, 0,0,0,0.1,0,0,0,1.8,2.2,1.3, 0.8,3.0,0.7,1.3,2.1,3.7,1.3,2.4,1.2,1.8, 2.0,1.8,3.5,1.8,5.0,5.3,4.4,5.4,5.2,2.0, 15.2,14.0,3.2];

const lines = [line01,line02,line03,line04,line05,line06,line07,line08,line09,line10,line11,line12,line13,line14,line15,line16,line17,line18,line19,line20,line21,line22,line23,line24];
const cis = [ci01,ci02,ci03,ci04,ci05,ci06,ci07,ci08,ci09,ci10,ci11,ci12,ci13,ci14,ci15,ci16,ci17,ci18,ci19,ci20,ci21,ci22,ci23,ci24];
const counts = [count01,count02,count03,count04,count05,count06,count07,count08,count09,count10,count11,count12,count13,count14,count15,count16,count17,count18,count19,count20,count21,count22,count23,count24];

const years = d3.range(1950, 2023);
const ciYears = d3.range(1950, 2023, 2);
const BAR_HALF = 0.4;
const X_DOMAIN = [1945.96, 2026.04];
const PW = 193, PH = 185, ML = 64, MR = 50, MT = 6, MB = 32;
const colLeft = [59, 348, 637, 926];
const rowTop = r => 26.7 + 242 * r;
const fig = document.getElementById("fig");
const baseStyle = {background: "transparent", fontFamily: "DejaVu Sans", fontSize: "13.9px", color: "black", overflow: "visible"};
const gridStyle = {stroke: "#b0b0b0", strokeOpacity: 1, strokeWidth: 0.8};
const tickOpts = {tickSize: 3.5, tickPadding: 3.5, strokeWidth: 0.8, label: null};

titles.forEach((title, i) => {
  const r = Math.floor(i / 4), c = i % 4;
  const left = colLeft[c], top = rowTop(r);
  const ln = lines[i], ci = cis[i], ct = counts[i];
  const lineData = years.map((year, k) => ({year, v: ln[k]}));
  const bandData = ciYears.map((year, k) => ({year, lo: ln[2 * k] - ci[k], hi: ln[2 * k] + ci[k]}));
  const barData = years.map((year, k) => ({year, n: ct[k]}));

  const common = {width: PW + ML + MR, height: PH + MT + MB, marginLeft: ML, marginRight: MR, marginTop: MT, marginBottom: MB, style: baseStyle};

  const a = Plot.plot({
    ...common,
    x: {domain: X_DOMAIN, label: null},
    y: {domain: leftDomains[i], label: null},
    marks: [
      Plot.areaY(bandData, {x: "year", y1: "lo", y2: "hi", fill: "blue", fillOpacity: 0.2, stroke: "blue", strokeOpacity: 0.15, strokeWidth: 1}),
      Plot.gridX(xTicks, gridStyle),
      Plot.gridY(leftTicks[i], gridStyle),
      Plot.lineY(lineData, {x: "year", y: "v", stroke: "blue", strokeWidth: 1.5}),
      Plot.axisX(xTicks, {...tickOpts, tickPadding: 6.5, anchor: "bottom", tickFormat: d3.format("d")}),
      Plot.axisY(leftTicks[i], {...tickOpts, anchor: "left", tickFormat: d3.format(leftFormats[i])})
    ]
  });

  const b = Plot.plot({
    ...common,
    x: {domain: X_DOMAIN, label: null, axis: null},
    y: {domain: rightDomains[i], label: null},
    marks: [
      Plot.rectY(barData, {x1: d => d.year - BAR_HALF, x2: d => d.year + BAR_HALF, y1: 0, y2: "n", fill: "gray", fillOpacity: 0.5}),
      Plot.axisY(rightTicks[i], {...tickOpts, anchor: "right", tickFormat: d3.format(rightFormats[i])}),
      Plot.frame({stroke: "black", strokeWidth: 0.8})
    ]
  });

  const wrap = document.createElement("div");
  wrap.className = "panel";
  wrap.style.left = (left - ML) + "px";
  wrap.style.top = (top - MT) + "px";
  wrap.style.width = (PW + ML + MR) + "px";
  wrap.style.height = (PH + MT + MB) + "px";
  wrap.appendChild(a);
  wrap.appendChild(b);
  fig.appendChild(wrap);

  const t = document.createElement("div");
  t.className = "title";
  t.textContent = title;
  t.style.left = (left + PW / 2) + "px";
  t.style.top = (top - 20) + "px";
  fig.appendChild(t);
});
</script></body></html>
